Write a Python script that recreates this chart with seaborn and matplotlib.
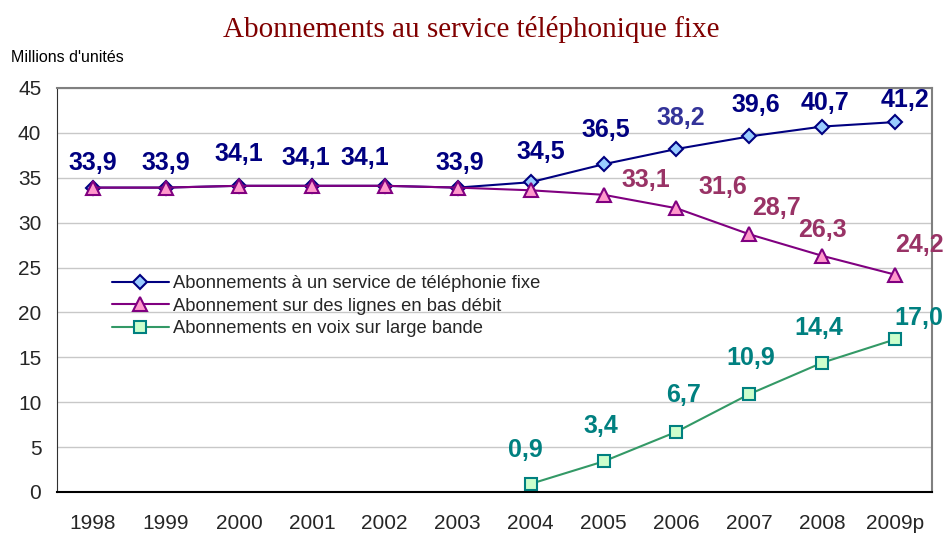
import matplotlib

matplotlib.use("Agg")
import matplotlib.pyplot as plt
import numpy as np
import pandas as pd
import seaborn as sns

years = ["1998", "1999", "2000", "2001", "2002", "2003",
         "2004", "2005", "2006", "2007", "2008", "2009p"]
fixe_total = [33.9, 33.9, 34.1, 34.1, 34.1, 33.9, 34.5, 36.5, 38.2, 39.6, 40.7, 41.2]
bas_debit = [33.9, 33.9, 34.1, 34.1, 34.1, 33.9, 33.6, 33.1, 31.6, 28.7, 26.3, 24.2]
large_bande = [np.nan, np.nan, np.nan, np.nan, np.nan, np.nan, 0.9, 3.4, 6.7, 10.9, 14.4, 17.0]

series_names = ["Abonnements à un service de téléphonie fixe",
                "Abonnement sur des lignes en bas débit",
                "Abonnements en voix sur large bande"]

# label offsets in pixels (dx, dy) relative to each point
fixe_offsets = [(0, 25), (0, 25), (0, 32), (-6, 28), (-20, 28), (2, 25),
                (10, 30), (2, 34), (4, 31), (6, 31), (3, 24), (10, 22)]
bas_offsets = {7: (42, 15), 8: (46, 21), 9: (27, 26), 10: (0, 26), 11: (24, 30)}
lb_offsets = {6: (-5, 34), 7: (-3, 35), 8: (7, 37), 9: (1, 36), 10: (-4, 35), 11: (24, 21)}

df = pd.DataFrame({"x": np.arange(len(years)), "fixe": fixe_total,
                   "bas": bas_debit, "lb": large_bande})

sns.set_style("white")
plt.rcParams["font.family"] = ["Liberation Sans", "DejaVu Sans"]

fig = plt.figure(figsize=(9.43, 5.33), dpi=100)
ax = fig.add_axes([0.060, 0.077, 0.928, 0.758])

styles = [
    ("fixe", "#000080", "D", "#99CCFF", "#000080", 7),
    ("bas", "#800080", "^", "#FF99CC", "#800080", 9.5),
    ("lb", "#339966", "s", "#CCFFCC", "#008080", 8),
]
for (col, lc, mk, fc, ec, ms), name in zip(styles, series_names):
    sns.lineplot(data=df, x="x", y=col, ax=ax, color=lc, linewidth=1.5,
                 marker=mk, markersize=ms, markerfacecolor=fc,
                 markeredgecolor=ec, markeredgewidth=1.5, label=name)

lab_font = dict(fontsize=18, fontweight="bold", ha="center", va="center",
                textcoords="offset pixels")
for i, v in enumerate(fixe_total):
    c = "#333399" if i == 8 else "#000080"
    ax.annotate(f"{v:.1f}".replace(".", ","), (i, v), xytext=fixe_offsets[i],
                color=c, **lab_font)
for i, off in bas_offsets.items():
    ax.annotate(f"{bas_debit[i]:.1f}".replace(".", ","), (i, bas_debit[i]),
                xytext=off, color="#993366", **lab_font)
for i, off in lb_offsets.items():
    ax.annotate(f"{large_bande[i]:.1f}".replace(".", ","), (i, large_bande[i]),
                xytext=off, color="#008080", **lab_font)

ax.set_xlim(-0.5, len(years) - 0.5)
ax.set_ylim(0, 45)
ax.set_yticks(np.arange(0, 46, 5))
ax.set_xticks(np.arange(len(years)))
ax.set_xticklabels(years)
ax.set_xticks(np.arange(-0.5, len(years), 1), minor=True)
ax.tick_params(axis="x", which="major", length=0, labelsize=15, pad=16)
ax.tick_params(axis="x", which="minor", length=5, width=1, color="black", direction="out")
ax.tick_params(axis="y", length=5, width=1, color="black", direction="out",
               labelsize=15, pad=6)
ax.set_xlabel("")
ax.set_ylabel("")
ax.yaxis.grid(True, color="#C8C8C8", linewidth=1)
ax.set_axisbelow(True)

for side in ["top", "right"]:
    ax.spines[side].set_color("#808080")
    ax.spines[side].set_linewidth(1.5)
ax.spines["left"].set_color("#303030")
ax.spines["bottom"].set_color("black")
ax.spines["bottom"].set_linewidth(1.5)

ax.legend(loc="upper left", bbox_to_anchor=(0.055, 0.555), frameon=False,
          fontsize=13.2, handlelength=3.1, handletextpad=0.2,
          labelspacing=0.3, borderaxespad=0)

fig.text(0.5, 0.945, "Abonnements au service téléphonique fixe",
         ha="center", va="center", fontsize=21, color="#800000",
         family="Liberation Serif")
fig.text(0.012, 0.893, "Millions d'unités", ha="left", va="center",
         fontsize=11.5, color="black")

fig.savefig("out.png", dpi=100)
plt.close(fig)
